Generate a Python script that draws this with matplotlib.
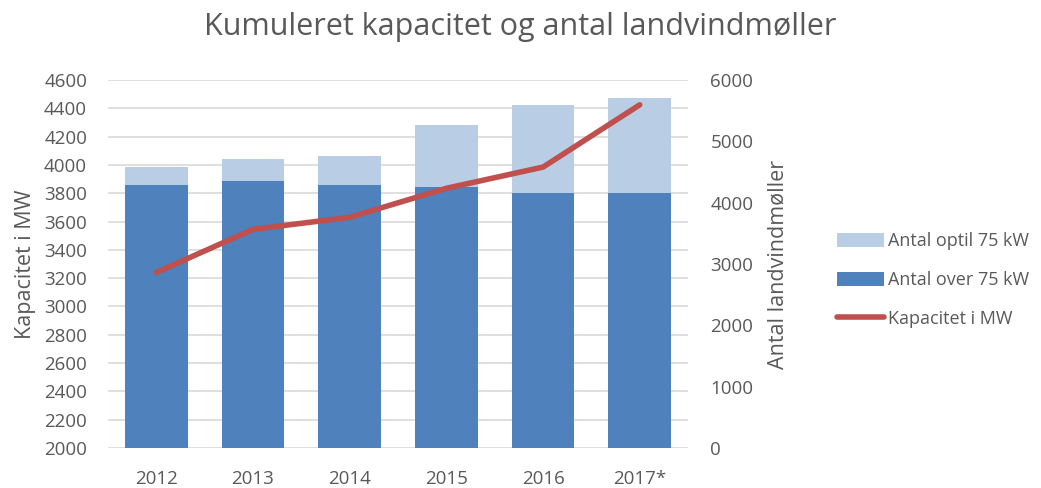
import matplotlib
matplotlib.use('Agg')
import matplotlib.pyplot as plt
import numpy as np

# data
years = ['2012', '2013', '2014', '2015', '2016', '2017*']
antal_over_75 = [4290, 4360, 4290, 4260, 4160, 4160]
antal_optil_75 = [295, 355, 475, 1005, 1430, 1550]
kapacitet_mw = [3240, 3545, 3630, 3835, 3985, 4425]

mw_ticks = list(range(2000, 4601, 200))
antal_ticks = list(range(0, 6001, 1000))

text_col = '#595959'
plt.rcParams['font.family'] = ['Open Sans', 'DejaVu Sans']

fig = plt.figure(figsize=(10.41, 4.88), dpi=100)
ax = fig.add_axes([0.1037, 0.082, 0.5573, 0.754])
x = np.arange(len(years))

# left axis: capacity scale with gridlines
ax.set_ylim(2000, 4600)
ax.set_yticks(mw_ticks)
ax.set_xlim(-0.5, len(years) - 0.5)
ax.grid(axis='y', color='#d9d9d9', linewidth=1.2)
ax.set_axisbelow(True)
ax.set_ylabel('Kapacitet i MW', fontsize=15.5, color=text_col, labelpad=6)

# bars on the right axis
axb = ax.twinx()
axb.set_ylim(0, 6000)
axb.set_yticks(antal_ticks)
b1 = axb.bar(x, antal_over_75, width=0.65, color='#4f81bd', label='Antal over 75 kW')
b2 = axb.bar(x, antal_optil_75, width=0.65, bottom=antal_over_75, color='#b9cde5',
             label='Antal optil 75 kW')
axb.set_ylabel('Antal landvindmøller', fontsize=15.5, color=text_col, labelpad=10)

# line on its own axis so it sits above the bars
axl = ax.twinx()
axl.set_ylim(2000, 4600)
axl.yaxis.set_visible(False)
l1, = axl.plot(x, kapacitet_mw, color='#c0504d', linewidth=4, solid_capstyle='round',
               label='Kapacitet i MW')

for a in (ax, axb, axl):
    for s in a.spines.values():
        s.set_visible(False)
    a.tick_params(length=0, labelsize=13.5, colors=text_col)

ax.set_xticks(x)
ax.set_xticklabels(years)
ax.tick_params(axis='x', pad=16)
ax.tick_params(axis='y', pad=15)
axb.tick_params(axis='y', pad=16)

fig.suptitle('Kumuleret kapacitet og antal landvindmøller', x=0.5, y=0.975,
             fontsize=22, color=text_col)

fig.legend([b2, b1, l1], ['Antal optil 75 kW', 'Antal over 75 kW', 'Kapacitet i MW'],
           loc='center left', bbox_to_anchor=(0.804, 0.426), frameon=False,
           fontsize=13, labelcolor=text_col, handlelength=2.6, handleheight=0.8,
           handletextpad=0.25, labelspacing=1.15, borderpad=0, borderaxespad=0)

fig.savefig('out.png', dpi=100)
